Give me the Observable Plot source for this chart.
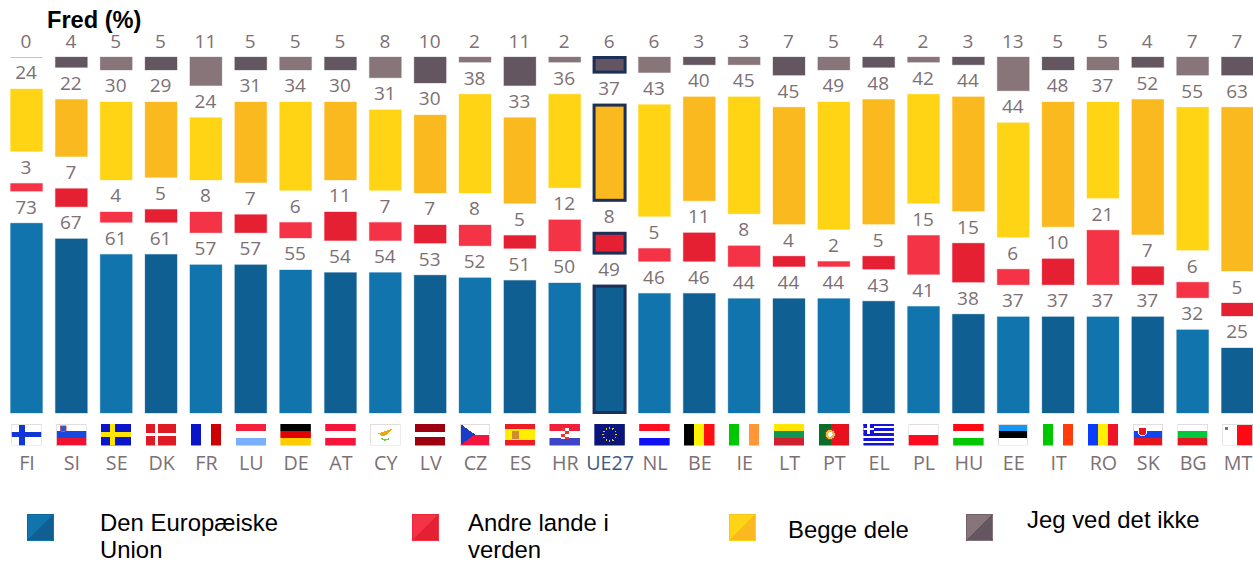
<!DOCTYPE html>
<html lang="da">
<head>
<meta charset="utf-8">
<script src="https://cdn.jsdelivr.net/npm/d3@7"></script>
<script src="https://cdn.jsdelivr.net/npm/@observablehq/plot@0.6"></script>
<style>
html,body{margin:0;padding:0;background:#fff;}
#page{position:relative;width:1253px;height:562px;overflow:hidden;font-family:"Liberation Sans",Arial,sans-serif;color:#000;}
#title{position:absolute;left:47px;top:5px;font-size:23.6px;font-weight:700;line-height:30px;white-space:nowrap;}
#chart{position:absolute;left:0;top:32px;}
.lg{position:absolute;font-size:23.9px;white-space:nowrap;}
.sw{position:absolute;width:25px;height:25px;top:514px;}
</style>
</head>
<body>
<div id="page">
  <div id="title">Fred (%)</div>
  <div id="chart"></div>
</div>
<script>
const countries = ["FI","SI","SE","DK","FR","LU","DE","AT","CY","LV","CZ","ES","HR","UE27","NL","BE","IE","LT","PT","EL","PL","HU","EE","IT","RO","SK","BG","MT"];
const euValues    = [73,67,61,61,57,57,55,54,54,53,52,51,50,49,46,46,44,44,44,43,41,38,37,37,37,37,32,25];
const otherValues = [3,7,4,5,8,7,6,11,7,7,8,5,12,8,5,11,8,4,2,5,15,15,6,10,21,7,6,5];
const bothValues  = [24,22,30,29,24,31,34,30,31,30,38,33,36,37,43,40,45,45,49,48,42,44,44,48,37,52,55,63];
const dkValues    = [0,4,5,5,11,5,5,5,8,10,2,11,2,6,6,3,3,7,5,4,2,3,13,5,5,4,7,7];

const seriesNames = ["Den Europæiske Union","Andre lande i verden","Begge dele","Jeg ved det ikke"];
const seriesValues = [euValues,otherValues,bothValues,dkValues];
const lightColors = ["#1174ad","#f53346","#ffd414","#87757a"];
const darkColors  = ["#0f5f92","#e62033","#fbb920","#635660"];

const gap = 12.3; // blank band between stacked segments, in percentage points

const rows = countries.flatMap((country,i)=>{
  let base = 0;
  return seriesValues.map((vals,s)=>{
    const value = vals[i], y1 = base, y2 = base + value;
    base = y2 + gap;
    return {country,value,y1,y2,series:seriesNames[s],fill:(i%2?darkColors:lightColors)[s]};
  });
});

/* flags */
function svgUri(inner){
  const s = `<svg xmlns="http://www.w3.org/2000/svg" viewBox="0 0 30 22" width="30" height="22" shape-rendering="crispEdges">${inner}</svg>`;
  return "data:image/svg+xml;charset=utf-8,"+encodeURIComponent(s);
}
const R=(x,y,w,h,f)=>`<rect x="${x}" y="${y}" width="${w}" height="${h}" fill="${f}"/>`;
const H=(cs)=>{const t=d3.sum(cs,c=>c[1]);let y=0;return cs.map(([c,w])=>{const r=R(0,y,30,22*w/t,c);y+=22*w/t;return r;}).join("");};
const V=(cs)=>cs.map((c,i)=>R(i*10,0,10,22,c)).join("");
const B=(c="#e3dcdc")=>`<rect x=".5" y=".5" width="29" height="21" fill="none" stroke="${c}"/>`;
const cross=(bg,fg,vx,vw,hw)=>R(0,0,30,22,bg)+R(vx,0,vw,22,fg)+R(0,(22-hw)/2,30,hw,fg);
const stars=Array.from({length:12},(_,i)=>{const a=i*Math.PI/6;return `<circle cx="${15+6.5*Math.cos(a)}" cy="${11+6.5*Math.sin(a)}" r=".8" fill="#e8c832"/>`;}).join("");
const flags={
  FI:cross("#fff","#1136d8",8,6,5)+B(),
  SI:H([["#fff",1],["#1748e0",1],["#f01030",1]])+`<path d="M4 2h6v5q-3 3-6 0z" fill="#2f55c8" stroke="#e66" stroke-width=".6"/>`+B(),
  SE:cross("#0a14c8","#ffe600",9,5,5),
  DK:cross("#de1a24","#fff",9,3,3),
  FR:V(["#0a14c8","#fff","#cc0000"]),
  LU:H([["#f5203c",1],["#fff",1],["#7aaeff",1]]),
  DE:H([["#000",1],["#e30000",1],["#ffcc00",1]]),
  AT:H([["#f5143c",1],["#fff",1],["#f5143c",1]]),
  CY:R(0,0,30,22,"#fff")+`<path d="M8 10l6-2 9-3-4 4-4 3-3 1z" fill="#e8a818"/><path d="M11 15q4 3 8 0" fill="none" stroke="#6c5" stroke-width="1.4"/>`+B(),
  LV:H([["#9c0010",2],["#fff",1],["#9c0010",2]]),
  CZ:H([["#fff",1],["#f5143c",1]])+`<path d="M0 0L15 11L0 22z" fill="#1a3cc8"/>`+B(),
  ES:H([["#ee1c25",1],["#ffee00",2],["#ee1c25",1]])+R(7,7,7,8,"#d08a30"),
  HR:H([["#f0203c",1],["#fff",1],["#3c44c8",1]])+R(11,4,8,11,"#fff")+R(11,4,4,3,"#e33")+R(15,7,4,3,"#e33")+R(11,10,4,3,"#e33")+R(15,13,4,2,"#e33"),
  UE27:R(0,0,30,22,"#0b1478")+stars,
  NL:H([["#ff1020",1],["#fff",1],["#1010f0",1]]),
  BE:V(["#000","#fff000","#ff1010"]),
  IE:V(["#00c800","#fff","#ff9638"]),
  LT:H([["#ffe600",1],["#0f9650",1],["#d02030",1]]),
  PT:R(0,0,12,22,"#0a6e28")+R(12,0,18,22,"#e8101c")+`<circle cx="11.5" cy="11" r="5" fill="#e8c040" stroke="#b33"/><circle cx="11.5" cy="11" r="2.4" fill="#fff"/>`,
  EL:H(Array.from({length:9},(_,i)=>[i%2?"#fff":"#1414d8",1]))+R(0,0,10,10,"#1414d8")+R(4,0,2,10,"#fff")+R(0,4,10,2,"#fff"),
  PL:H([["#fff",1],["#ff0a1e",1]])+B(),
  HU:H([["#ff0a14",1],["#fff",1],["#00c800",1]]),
  EE:H([["#1496f5",1],["#000",1],["#fff",1]])+B(),
  IT:V(["#00c800","#fff","#ff3c0a"]),
  RO:V(["#0a3cff","#fff000","#f01428"]),
  SK:H([["#fff",1],["#0f46f0",1],["#e6141e",1]])+`<path d="M6 4h8v6q-4 5-8 0z" fill="#e8141e" stroke="#fff"/>`+B(),
  BG:H([["#fff",1],["#00c83c",1],["#e6141e",1]])+B(),
  MT:R(0,0,15,22,"#fff")+R(15,0,15,22,"#ff0a14")+R(3,3,3,3,"#777")+B()
};

const chart = Plot.plot({
  width:1253,
  height:450,
  marginTop:25,
  marginBottom:69,
  marginLeft:0,
  marginRight:0,
  style:{background:"transparent",overflow:"visible"},
  x:{type:"band",domain:countries,range:[4.08,1259.92],paddingInner:0.2865,paddingOuter:0.14325,align:0.5,round:false,axis:null},
  y:{domain:[0,100+3*gap],axis:null},
  color:{type:"identity"},
  marks:[
    Plot.barY(rows,{x:"country",y1:"y1",y2:"y2",fill:"fill",stroke:"fill",strokeOpacity:0.3,strokeWidth:1}),
    Plot.tickY(rows.filter(d=>d.value===0),{x:"country",y:"y1",stroke:"#c9c3c3",strokeWidth:1.2}),
    Plot.barY(rows.filter(d=>d.country==="UE27"),{x:"country",y1:"y1",y2:"y2",fill:"none",stroke:"#1b2f58",strokeWidth:3,inset:0.5}),
    Plot.text(rows,{x:"country",y:"y2",text:d=>String(d.value),dx:-1,dy:-10,lineAnchor:"bottom",fill:"#7c7074",fontSize:19,fontFamily:'"Open Sans",sans-serif'}),
    Plot.image(countries,{x:d=>d,frameAnchor:"bottom",dx:-0.5,dy:21,width:30.5,height:22,src:d=>svgUri(flags[d]),preserveAspectRatio:"none"}),
    Plot.axisX({ticks:countries,tickSize:0,tickPadding:42,label:null,fontSize:19.7,fontFamily:'"Open Sans",sans-serif',fill:d=>d==="UE27"?"#3e5a85":"#7c7074"})
  ]
});
document.getElementById("chart").append(chart);

/* legend below the chart */
const page=document.getElementById("page");
const swatchX=[27,412,729,966];
swatchX.forEach((x,i)=>{
  const el=document.createElement("div");
  el.className="sw";
  el.style.left=x+"px";
  el.style.background=`linear-gradient(to bottom right,${lightColors[i]} 50%,${darkColors[i]} 50%)`;
  el.style.border=`1px solid ${lightColors[i]}55`;
  page.append(el);
});
const legendLines=[
  ["Den Europæiske",100,531],["Union",100,558],
  ["Andre lande i",468,531],["verden",468,558],
  ["Begge dele",788,538],
  ["Jeg ved det ikke",1027,528]
];
legendLines.forEach(([t,x,base])=>{
  const el=document.createElement("div");
  el.className="lg";
  el.textContent=t;
  el.style.left=x+"px";
  el.style.lineHeight="22px";
  el.style.top=(base-19.25)+"px";
  page.append(el);
});
</script>
</body>
</html>
